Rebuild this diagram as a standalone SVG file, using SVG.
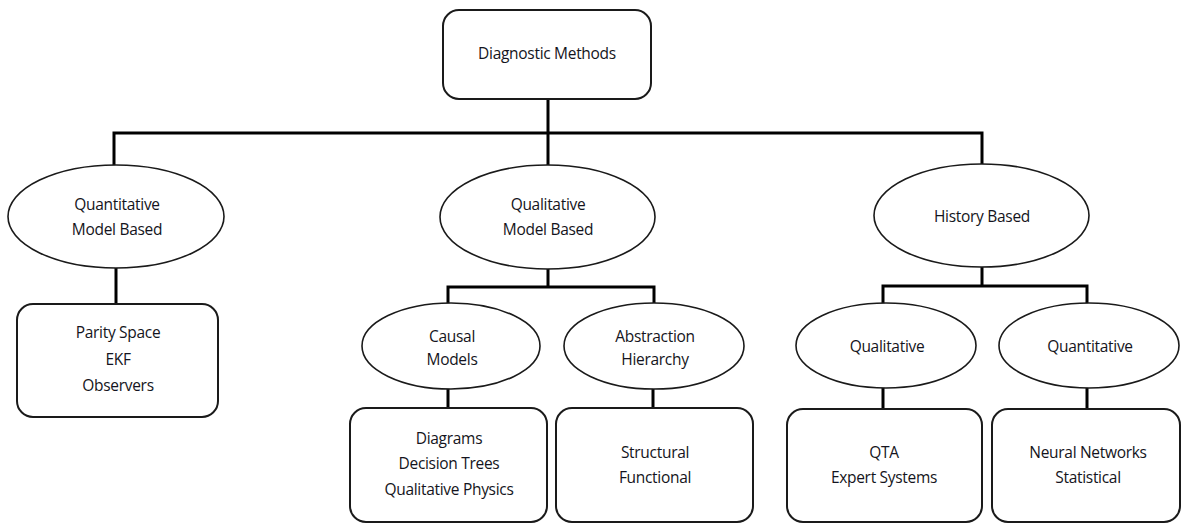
<svg xmlns="http://www.w3.org/2000/svg" width="1182" height="523" viewBox="0 0 1182 523">
  <style>
    .box { fill: #ffffff; stroke: #1a1a1a; stroke-width: 2; }
    .oval { fill: #ffffff; stroke: #1a1a1a; stroke-width: 1.6; }
    .wire { fill: none; stroke: #000000; stroke-width: 3; stroke-linecap: square; }
    text { font-family: "Open Sans", "Liberation Sans", sans-serif; font-size: 15.5px; fill: #141420; text-anchor: middle; letter-spacing: -0.3px; }
  </style>
  <rect width="1182" height="523" fill="#ffffff"/>

  <!-- connectors -->
  <g id="connectors">
    <path class="wire" d="M548,99 V133 M114,165 V133 H982 V164 M548,133 V165"/>
    <path class="wire" d="M116,268 V304"/>
    <path class="wire" d="M548,269 V287 M448,303 V287 H654 V303"/>
    <path class="wire" d="M448,389 V408 M653,389 V408"/>
    <path class="wire" d="M982,267 V286 M883,303 V286 H1087 V303"/>
    <path class="wire" d="M883,388 V409 M1087,388 V409"/>
  </g>

  <g id="diagnostic-methods">
    <rect class="box" x="443" y="10" width="208" height="89" rx="16"/>
    <text x="547" y="59">Diagnostic Methods</text>
  </g>

  <g id="quantitative-model-based">
    <ellipse class="oval" cx="116" cy="216.5" rx="108" ry="51.5"/>
    <text x="117" y="210">Quantitative</text>
    <text x="117" y="235">Model Based</text>
  </g>

  <g id="quantitative-methods">
    <rect class="box" x="17" y="304" width="201" height="113" rx="16"/>
    <text x="118" y="338">Parity Space</text>
    <text x="118" y="365">EKF</text>
    <text x="118" y="391">Observers</text>
  </g>

  <g id="qualitative-model-based">
    <ellipse class="oval" cx="547.5" cy="217" rx="107.5" ry="52"/>
    <text x="548" y="210">Qualitative</text>
    <text x="548" y="235">Model Based</text>
  </g>

  <g id="causal-models">
    <ellipse class="oval" cx="451" cy="346" rx="89" ry="43"/>
    <text x="452" y="342">Causal</text>
    <text x="452" y="365">Models</text>
  </g>

  <g id="abstraction-hierarchy">
    <ellipse class="oval" cx="654" cy="346" rx="90" ry="43"/>
    <text x="655" y="342">Abstraction</text>
    <text x="655" y="365">Hierarchy</text>
  </g>

  <g id="causal-methods">
    <rect class="box" x="350" y="408" width="197" height="114" rx="16"/>
    <text x="449" y="444">Diagrams</text>
    <text x="449" y="469">Decision Trees</text>
    <text x="449" y="495">Qualitative Physics</text>
  </g>

  <g id="abstraction-methods">
    <rect class="box" x="556" y="408" width="197" height="114" rx="16"/>
    <text x="655" y="458">Structural</text>
    <text x="655" y="483">Functional</text>
  </g>

  <g id="history-based">
    <ellipse class="oval" cx="981.5" cy="215.5" rx="107.5" ry="51.5"/>
    <text x="982" y="222">History Based</text>
  </g>

  <g id="history-qualitative">
    <ellipse class="oval" cx="886" cy="345.5" rx="90" ry="42.5"/>
    <text x="887" y="352">Qualitative</text>
  </g>

  <g id="history-quantitative">
    <ellipse class="oval" cx="1089" cy="345.5" rx="90" ry="42.5"/>
    <text x="1090" y="352">Quantitative</text>
  </g>

  <g id="qualitative-history-methods">
    <rect class="box" x="787" y="409" width="195" height="113" rx="16"/>
    <text x="884" y="458">QTA</text>
    <text x="884" y="483">Expert Systems</text>
  </g>

  <g id="quantitative-history-methods">
    <rect class="box" x="992" y="409" width="188" height="113" rx="16"/>
    <text x="1088" y="458">Neural Networks</text>
    <text x="1088" y="483">Statistical</text>
  </g>
</svg>
